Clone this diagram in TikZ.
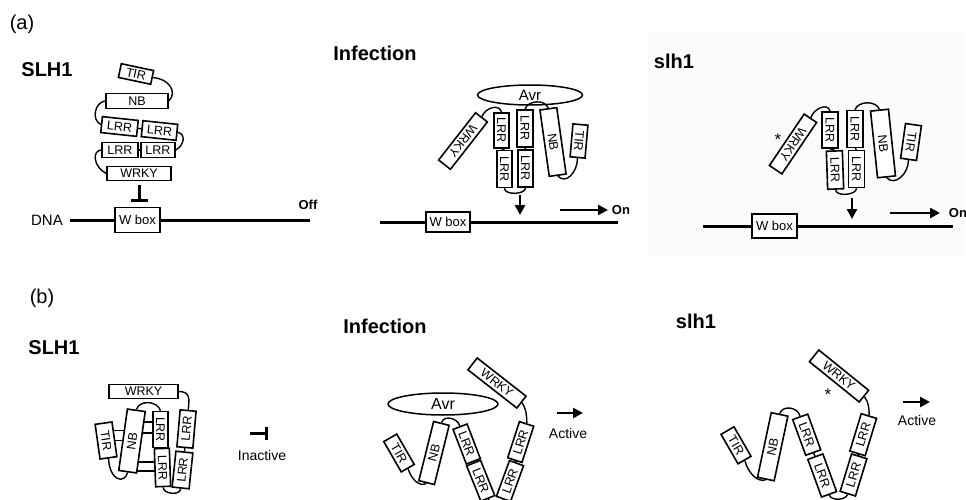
\documentclass[tikz,border=0pt]{standalone}
\usepackage{fontspec}
\setmainfont{Liberation Sans}
\usetikzlibrary{shapes.geometric,arrows.meta,calc}
\pgfdeclarelayer{bg}
\pgfsetlayers{bg,main}
\begin{document}
\begin{tikzpicture}[x=1pt,y=-1pt,
  dom/.style={draw,line width=1.6pt,fill=white,inner sep=0pt,rectangle,font=\fontsize{12.5}{13}\selectfont},
  avr/.style={draw,ellipse,line width=1.5pt,fill=white,inner sep=0pt,font=\fontsize{15}{16}\selectfont},
  link/.style={line width=1.4pt},
  dna/.style={line width=3pt},
  ttl/.style={font=\bfseries\fontsize{20}{22}\selectfont},
  plab/.style={font=\fontsize{20}{22}\selectfont},
  big/.style={line width=2.8pt,-{Triangle[length=10pt,width=10pt]}},
  wbox/.style={draw,line width=1.7pt,fill=white,inner sep=0pt,font=\fontsize{13}{14}\selectfont},
  state/.style={font=\bfseries\fontsize{13}{14}\selectfont},
  small/.style={font=\fontsize{14}{15}\selectfont},
  star/.style={font=\fontsize{17}{17}\selectfont,inner sep=0pt},
]
\useasboundingbox (0,0) rectangle (966,500);
\clip (0,0) rectangle (966,500);
\fill[black!1.5] (648,32) rectangle (963,257);

% ---------------- (a) SLH1
\node[plab] (la) at (22,24) {(a)};
\node[ttl] (t1) at (47,70) {SLH1};
\node[dom,minimum width=33pt,minimum height=14pt,rotate=-12] (tA1) at (136,74) {TIR};
\node[dom,minimum width=62pt,minimum height=15pt] (nA1) at (137,101) {NB};
\node[dom,minimum width=36pt,minimum height=16pt,rotate=-6] (lA1) at (119.5,126.5) {LRR};
\node[dom,minimum width=35pt,minimum height=16pt,rotate=-6] (lA2) at (159.5,130.5) {LRR};
\node[dom,minimum width=36pt,minimum height=15pt] (lA3) at (120,150) {LRR};
\node[dom,minimum width=34pt,minimum height=15pt] (lA4) at (158,150) {LRR};
\node[dom,minimum width=64pt,minimum height=14pt] (wA1) at (139,173.5) {WRKY};
\draw[link] (tA1.east) .. controls ($(tA1.east)+(16,1)$) and ($(nA1.east)+(9,-9)$) .. (nA1.east);
\draw[link] (nA1.west) .. controls ($(nA1.west)+(-10,1)$) and ($(lA1.west)+(-10,-5)$) .. (lA1.west);
\draw[link] (lA1.east) -- (lA2.west);
\draw[link] (lA2.east) .. controls ($(lA2.east)+(8,1)$) and ($(lA4.east)+(9,-5)$) .. (lA4.east);
\draw[link] (lA3.east) -- (lA4.west);
\draw[link] (lA3.west) .. controls ($(lA3.west)+(-10,1)$) and ($(wA1.west)+(-12,-6)$) .. (wA1.west);
\coordinate (dA0) at (70,220);
\coordinate (dA1) at (310,220);
\node[wbox,minimum width=45pt,minimum height=25pt] (wbA) at (137.5,220) {W box};
\draw[dna] (dA0) -- (wbA.west);
\draw[dna] (wbA.east) -- (dA1);
\draw[line width=3pt,-{Bar[width=17pt]}] ($(wA1.south)+(0,4)$) -- ($(wA1.south |- wbA.north)+(0,-5)$);
\node[font=\fontsize{15}{16}\selectfont] (dnaL) at (47,220) {DNA};
\node[state] (off) at (308,205) {Off};

% ---------------- (a) Infection
\node[ttl] (t2) at (375,53) {Infection};
\node[avr,minimum width=105pt,minimum height=20pt] (avrB) at (530,95) {Avr};
\node[dom,minimum width=60pt,minimum height=15pt,rotate=-128] (wB) at (463,141) {WRKY};
\node[dom,minimum width=35pt,minimum height=15pt,rotate=-90] (lB1) at (501.5,130.5) {LRR};
\node[dom,minimum width=37pt,minimum height=15pt,rotate=-90] (lB2) at (504.5,169) {LRR};
\node[dom,minimum width=37pt,minimum height=16pt,rotate=-90] (lB3) at (525,128.5) {LRR};
\node[dom,minimum width=37pt,minimum height=15pt,rotate=-90] (lB4) at (525.5,168.5) {LRR};
\node[dom,minimum width=67pt,minimum height=17pt,rotate=-82] (nB) at (553,142) {NB};
\node[dom,minimum width=33pt,minimum height=15pt,rotate=-95] (tB) at (579,141) {TIR};
\draw[link] (lB1.west) .. controls ($(lB1.west)+(-2,-9)$) and ($(wB.west)+(3,-9)$) .. (wB.west);
\draw[link] (lB1.east) -- (lB2.west);
\draw[link] (lB2.east) .. controls ($(lB2.east)+(0,7)$) and ($(lB4.east)+(0,7)$) .. (lB4.east);
\draw[link] (lB4.west) -- (lB3.east);
\draw[link] (lB3.west) .. controls ($(lB3.west)+(3,-9)$) and ($(nB.west)+(-3,-9)$) .. (nB.west);
\draw[link] (nB.east) .. controls ($(nB.east)+(8,9)$) and ($(tB.east)+(0,14)$) .. (tB.east);
\coordinate (dB0) at (380,222);
\coordinate (dB1) at (618,222);
\node[wbox,minimum width=44pt,minimum height=20pt] (wbB) at (448,222) {W box};
\draw[dna] (dB0) -- (wbB.west);
\draw[dna] (wbB.east) -- (dB1);
\coordinate (aB0) at (520,195);
\coordinate (aB1) at (520,215);
\draw[big] (aB0) -- (aB1);
\coordinate (oB0) at (560,210);
\coordinate (oB1) at (608,210);
\draw[big] (oB0) -- (oB1);
\node[state] (onB) at (621,210) {On};

% ---------------- (a) slh1
\node[ttl] (t3) at (674,61) {slh1};
\node[dom,minimum width=62pt,minimum height=15pt,rotate=-124] (wC) at (793,144) {WRKY};
\node[star] (sC) at (778,140) {*};
\node[dom,minimum width=36pt,minimum height=16pt,rotate=-90] (lC1) at (830,130) {LRR};
\node[dom,minimum width=38pt,minimum height=16pt,rotate=-88] (lC2) at (835,170) {LRR};
\node[dom,minimum width=37pt,minimum height=16pt,rotate=-90] (lC3) at (855,129) {LRR};
\node[dom,minimum width=37pt,minimum height=16pt,rotate=-90] (lC4) at (856.5,169) {LRR};
\node[dom,minimum width=67pt,minimum height=18pt,rotate=-84] (nC) at (883,143.5) {NB};
\node[dom,minimum width=35pt,minimum height=16pt,rotate=-98] (tC) at (911,142) {TIR};
\draw[link] (lC1.west) .. controls ($(lC1.west)+(-2,-9)$) and ($(wC.west)+(3,-9)$) .. (wC.west);
\draw[link] (lC1.east) -- (lC2.west);
\draw[link] (lC2.east) .. controls ($(lC2.east)+(0,7)$) and ($(lC4.east)+(0,7)$) .. (lC4.east);
\draw[link] (lC4.west) -- (lC3.east);
\draw[link] (lC3.west) .. controls ($(lC3.west)+(3,-9)$) and ($(nC.west)+(-3,-9)$) .. (nC.west);
\draw[link] (nC.east) .. controls ($(nC.east)+(8,9)$) and ($(tC.east)+(0,14)$) .. (tC.east);
\coordinate (dC0) at (703,226);
\coordinate (dC1) at (953,226);
\node[wbox,minimum width=45pt,minimum height=24pt] (wbC) at (774.5,226) {W box};
\draw[dna] (dC0) -- (wbC.west);
\draw[dna] (wbC.east) -- (dC1);
\coordinate (aC0) at (852,198);
\coordinate (aC1) at (852,219);
\draw[big] (aC0) -- (aC1);
\coordinate (oC0) at (890,213);
\coordinate (oC1) at (940,213);
\draw[big] (oC0) -- (oC1);
\node[state] (onC) at (958,213) {On};

% ---------------- (b) SLH1
\node[plab] (lb) at (42,298) {(b)};
\node[ttl] (t4) at (54,348) {SLH1};
\node[dom,minimum width=69pt,minimum height=14pt] (wD) at (143.5,391.5) {WRKY};
\node[dom,minimum width=35pt,minimum height=17pt,rotate=-82] (tD) at (106,440.5) {TIR};
\node[dom,minimum width=62pt,minimum height=18pt,rotate=82] (nD) at (132,441) {NB};
\node[dom,minimum width=36pt,minimum height=15pt,rotate=-90] (lD1) at (160.5,429.5) {LRR};
\node[dom,minimum width=38pt,minimum height=15pt,rotate=-88] (lD2) at (162.5,467.5) {LRR};
\node[dom,minimum width=37pt,minimum height=16pt,rotate=85] (lD3) at (186.5,429) {LRR};
\node[dom,minimum width=36pt,minimum height=17pt,rotate=84] (lD4) at (182.5,470) {LRR};
\begin{pgfonlayer}{bg}
\draw[link] ($(tD.center)+(0,-10)$) -- ($(nD.center)+(0,-10.5)$);
\draw[link] ($(tD.center)+(0,0)$) -- ($(nD.center)+(0,-0.5)$);
\draw[link] ($(nD.center)+(0,-19)$) -- ($(lD1.center)+(0,-7.5)$);
\draw[link] ($(nD.center)+(0,-8)$) -- ($(lD1.center)+(0,3.5)$);
\draw[link] ($(nD.center)+(0,21)$) -- ($(lD2.center)+(0,-5.5)$);
\draw[link] ($(nD.center)+(0,30)$) -- ($(lD2.center)+(0,3.5)$);
\end{pgfonlayer}
\draw[link] (wD.east) .. controls ($(wD.east)+(12,0)$) and ($(lD3.east)+(1,-10)$) .. (lD3.east);
\draw[link] (nD.east) .. controls ($(nD.east)+(3,-10)$) and ($(lD1.west)+(-3,-10)$) .. (lD1.west);
\draw[link] (tD.east) .. controls ($(tD.east)+(1,22)$) and ($(nD.west)+(-3,12)$) .. (nD.west);
\draw[link] (lD1.east) -- (lD2.west);
\draw[link] (lD2.east) .. controls ($(lD2.east)+(0,7)$) and ($(lD4.west)+(0,7)$) .. (lD4.west);
\draw[link] (lD4.east) -- (lD3.west);
\coordinate (iD0) at (250,433);
\coordinate (iD1) at (268,433);
\draw[line width=3pt,-{Bar[width=13pt]}] (iD0) -- (iD1);
\node[small] (inact) at (262,455) {Inactive};

% ---------------- (b) Infection
\node[ttl] (t5) at (385,326) {Infection};
\node[avr,minimum width=110pt,minimum height=22pt,font=\fontsize{16}{17}\selectfont] (avrE) at (443,404) {Avr};
\node[dom,minimum width=62pt,minimum height=15pt,rotate=-38] (wE) at (497,383) {WRKY};
\node[dom,minimum width=35pt,minimum height=15pt,rotate=-60] (tE) at (399,453) {TIR};
\node[dom,minimum width=61pt,minimum height=16pt,rotate=76] (nE) at (434,453) {NB};
\node[dom,minimum width=37pt,minimum height=15pt,rotate=-69] (lE1) at (466.7,444) {LRR};
\node[dom,minimum width=38pt,minimum height=15pt,rotate=-68] (lE2) at (480.7,480.7) {LRR};
\node[dom,minimum width=38pt,minimum height=15pt,rotate=72] (lE3) at (520.7,442) {LRR};
\node[dom,minimum width=38pt,minimum height=15pt,rotate=70] (lE4) at (510,481) {LRR};
\draw[link] (tE.east) .. controls ($(tE.east)+(3,10)$) and ($(nE.west)+(-7,4)$) .. (nE.west);
\draw[link] (nE.east) .. controls ($(nE.east)+(2,-8)$) and ($(lE1.west)+(-2,-8)$) .. (lE1.west);
\draw[link] (lE1.east) -- (lE2.west);
\draw[link] (lE2.east) .. controls ($(lE2.east)+(2,6)$) and ($(lE4.west)+(-2,6)$) .. (lE4.west);
\draw[link] (lE4.east) -- (lE3.west);
\draw[link] (wE.east) .. controls ($(wE.east)+(4,6)$) and ($(lE3.east)+(0,-8)$) .. (lE3.east);
\coordinate (aE0) at (557,413);
\coordinate (aE1) at (583,413);
\draw[big] (aE0) -- (aE1);
\node[small] (actE) at (568,433) {Active};

% ---------------- (b) slh1
\node[ttl] (t6) at (696,321) {slh1};
\node[dom,minimum width=64pt,minimum height=15pt,rotate=-39] (wF) at (839,376) {WRKY};
\node[star] (sF) at (828,395) {*};
\node[dom,minimum width=34pt,minimum height=15pt,rotate=-60] (tF) at (736,445.3) {TIR};
\node[dom,minimum width=66pt,minimum height=17pt,rotate=78] (nF) at (772.7,446.7) {NB};
\node[dom,minimum width=38pt,minimum height=16pt,rotate=-70] (lF1) at (806.7,434.7) {LRR};
\node[dom,minimum width=40pt,minimum height=16pt,rotate=-70] (lF2) at (822.2,475.5) {LRR};
\node[dom,minimum width=39pt,minimum height=16pt,rotate=73] (lF3) at (863.2,434.7) {LRR};
\node[dom,minimum width=39pt,minimum height=16pt,rotate=73] (lF4) at (853.5,475) {LRR};
\draw[link] (tF.east) .. controls ($(tF.east)+(3,12)$) and ($(nF.west)+(-8,3)$) .. (nF.west);
\draw[link] (nF.east) .. controls ($(nF.east)+(3,-9)$) and ($(lF1.west)+(-2,-9)$) .. (lF1.west);
\draw[link] (lF1.east) -- (lF2.west);
\draw[link] (lF2.east) .. controls ($(lF2.east)+(2,6)$) and ($(lF4.west)+(-2,6)$) .. (lF4.west);
\draw[link] (lF4.east) -- (lF3.west);
\draw[link] (wF.east) .. controls ($(wF.east)+(4,6)$) and ($(lF3.east)+(0,-8)$) .. (lF3.east);
\coordinate (aF0) at (903,402);
\coordinate (aF1) at (930,402);
\draw[big] (aF0) -- (aF1);
\node[small] (actF) at (917,420) {Active};
\end{tikzpicture}
\end{document}
